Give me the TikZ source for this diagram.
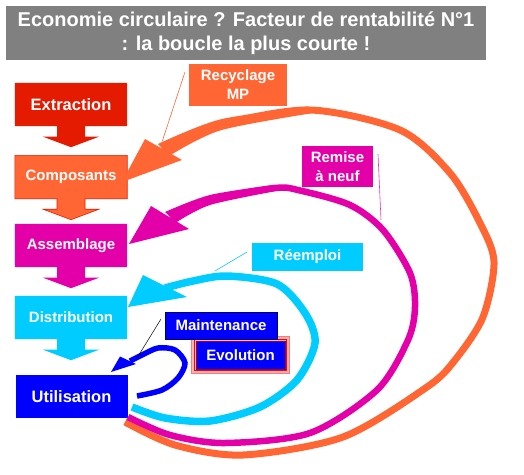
\documentclass[tikz,border=0pt]{standalone}
\usepackage{fontspec}
\setmainfont{Liberation Sans}
\usetikzlibrary{calc}
\pgfdeclarelayer{bg}
\pgfsetlayers{bg,main}
\definecolor{cgray}{HTML}{808080}
\definecolor{cred}{HTML}{E41B00}
\definecolor{corange}{HTML}{FF6633}
\definecolor{cmag}{HTML}{E300A8}
\definecolor{ccyan}{HTML}{00CCFF}
\definecolor{cblue}{HTML}{0000FF}
\definecolor{cnavy}{HTML}{000066}
\definecolor{cmaroon}{HTML}{990033}
\definecolor{cpink}{HTML}{FF7777}
\newcommand\stepshape[2]{%
 \begin{pgfonlayer}{bg}
 \path[#2] (#1.north west) -- (#1.north east) -- (#1.south east) -- ($(#1.south)+(14,0)$) -- ++(0,10.5) -- ++(14,0) -- ($(#1.south)+(0,21)$) -- ($(#1.south)+(-28,10.5)$) -- ++(14,0) -- ++(0,-10.5) -- (#1.south west) -- cycle;
 \end{pgfonlayer}}
\begin{document}
\begin{tikzpicture}[x=1pt,y=-1pt,
  lbl/.style={text=white,font=\bfseries\fontsize{15}{19}\selectfont,align=center,inner sep=0pt},
  stepbox/.style={lbl,minimum width=112pt,minimum height=43pt},
  bigtxt/.style={font=\bfseries\fontsize{16.5}{20}\selectfont},
  lblbox/.style={lbl},
  thin/.style={line width=0.6pt}]
\useasboundingbox (0,0) rectangle (524,474);
% title
\node[fill=cgray, minimum width=480pt, minimum height=54pt, inner sep=0pt, text=white,
  font=\bfseries\fontsize{20}{24}\selectfont, align=center] (title) at (246,33)
  {Economie circulaire ? Facteur de rentabilité N°1\\: la boucle la plus courte !};
% step boxes
\node[stepbox, bigtxt] (ext) at (71,104.5) {Extraction};
\stepshape{ext}{fill=cred}
\node[stepbox] (comp) at (71,177) {Composants};
\stepshape{comp}{fill=corange, draw=cred, line width=0.6pt}
\node[stepbox] (ass) at (71,245.5) {Assemblage};
\stepshape{ass}{fill=cmag}
\node[stepbox] (dist) at (71,317.5) {Distribution};
\stepshape{dist}{fill=ccyan}
\node[stepbox, bigtxt, fill=cblue] (util) at (71.5,396.5) {Utilisation};
% labels
\node[lblbox, fill=corange, minimum width=98pt, minimum height=42pt] (rec) at (238,85) {Recyclage\\MP};
\node[lblbox, fill=cmag, minimum width=71pt, minimum height=41pt] (rem) at (337.5,166.5) {Remise\\à neuf};
\node[lblbox, fill=ccyan, minimum width=111pt, minimum height=28pt] (reem) at (307.5,257) {Réemploi};
\node[lblbox, fill=cblue, draw=cnavy, line width=0.8pt, minimum width=112pt, minimum height=27pt] (maint) at (221,325.5) {Maintenance};
\node[lblbox, fill=cblue, draw=cmaroon, line width=1pt, minimum width=89pt, minimum height=28pt] (evo) at (240.5,355) {Evolution};
\begin{pgfonlayer}{bg}
\draw[cpink, fill=cpink!55] ($(evo.north west)+(-4,-4)$) rectangle ($(evo.south east)+(4,4)$);
\draw[red, line width=0.8pt] ($(evo.north west)+(-1.2,-1.2)$) rectangle ($(evo.south east)+(1.2,1.2)$);
\end{pgfonlayer}
% thin leader lines (under arcs)
\coordinate (rl1) at (185,72); \coordinate (rl2) at (162,142);
\draw[corange, thin] (rl1) -- (rl2);
\coordinate (ml1) at (378,154); \coordinate (ml2) at (381,220);
\draw[cmag!80, thin] (ml1) -- (ml2);
\coordinate (cl1) at (247,252); \coordinate (cl2) at (215,271);
\draw[ccyan, thin] (cl1) -- (cl2);
% orange loop
\draw[corange, line width=7pt] plot[smooth] coordinates {(163,150) (220,125) (310,110) (400,130) (450,173) (480,223) (494,262) (483,317) (455,360) (427,387) (343,437) (243,455) (175,445) (125,422)};
\fill[corange] plot[smooth] coordinates {(158,144) (220,119.5) (310,106.5)} -- plot[smooth] coordinates {(310,113.5) (220,130.5) (169,156)} -- cycle;
\fill[corange] (122,182) -- (145,139) -- (182,160) -- cycle;
% magenta loop
\draw[cmag, line width=6.5pt] plot[smooth] coordinates {(170,217) (210,200) (275,188) (300,190.5) (350,205) (383,230) (410,273) (415,307) (408,340) (377,390) (310,433) (225,443) (170,435) (128,417)};
\fill[cmag] plot[smooth] coordinates {(165,212) (210,195) (275,184.75)} -- plot[smooth] coordinates {(275,191.25) (210,205) (176,222.5)} -- cycle;
\fill[cmag] (129,244) -- (151,206) -- (189,229) -- cycle;
% cyan loop
\draw[ccyan, line width=7.5pt] plot[smooth] coordinates {(165,288) (193,281) (227,276) (277,284) (305,313) (315,343) (297,380) (260,407) (210,421) (165,418) (132,407)};
\fill[ccyan] (128,307) -- (143,275) -- (187,297) -- cycle;
% blue loop
\draw[cblue, line width=5.5pt] plot[smooth] coordinates {(137,396) (162,390) (178,378) (185,363) (175,350) (158,348) (142,355) (130,361)};
\fill[cblue] (111,372) -- (120,356.5) -- (136,364) -- cycle;
\coordinate (bl1) at (161,319); \coordinate (bl2) at (137,358);
\draw[black, line width=0.5pt] (bl1) -- (bl2);
\end{tikzpicture}
\end{document}
